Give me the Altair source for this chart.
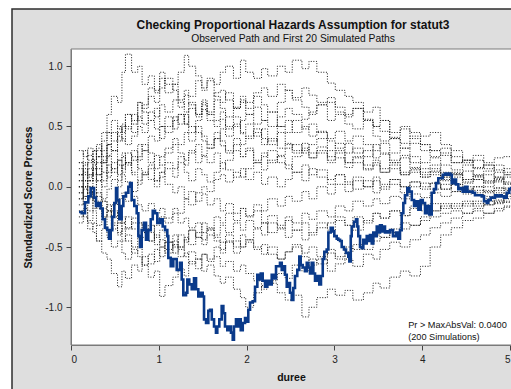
import altair as alt
import pandas as pd

# Observed standardized score process (step path)
OBS_T = [0.091, 0.122, 0.159, 0.197, 0.224, 0.247, 0.262, 0.285, 0.311, 0.338, 0.361, 0.387, 0.413,
         0.433, 0.452, 0.470, 0.493, 0.513, 0.527, 0.550, 0.577, 0.596, 0.626, 0.653, 0.672, 0.691,
         0.721, 0.748, 0.767, 0.786, 0.805, 0.831, 0.854, 0.880, 0.908, 0.931, 0.957, 0.983, 1.014,
         1.044, 1.071, 1.097, 1.108, 1.136, 1.165, 1.204, 1.241, 1.261, 1.279, 1.310, 1.325, 1.347,
         1.375, 1.401, 1.424, 1.450, 1.477, 1.500, 1.515, 1.538, 1.564, 1.583, 1.603, 1.629, 1.651,
         1.666, 1.689, 1.716, 1.735, 1.754, 1.780, 1.803, 1.822, 1.842, 1.856, 1.879, 1.899, 1.917,
         1.933, 1.956, 1.982, 2.001, 2.019, 2.039, 2.069, 2.096, 2.122, 2.145, 2.161, 2.183, 2.210,
         2.236, 2.259, 2.286, 2.312, 2.335, 2.361, 2.380, 2.400, 2.418, 2.437, 2.457, 2.475, 2.494,
         2.514, 2.532, 2.551, 2.577, 2.600, 2.616, 2.639, 2.665, 2.685, 2.703, 2.722, 2.741, 2.760,
         2.779, 2.798, 2.828, 2.847, 2.867, 2.885, 2.912, 2.931, 2.958, 2.981, 2.999, 3.026, 3.044,
         3.064, 3.083, 3.109, 3.132, 3.158, 3.170, 3.186, 3.197, 3.223, 3.246, 3.261, 3.272, 3.292,
         3.311, 3.329, 3.349, 3.368, 3.386, 3.405, 3.425, 3.443, 3.462, 3.482, 3.500, 3.519, 3.539,
         3.557, 3.576, 3.596, 3.614, 3.633, 3.667, 3.702, 3.728, 3.747, 3.766, 3.785, 3.804, 3.830,
         3.853, 3.881, 3.907, 3.929, 3.956, 3.983, 4.006, 4.032, 4.051, 4.081, 4.108, 4.134, 4.157,
         4.183, 4.211, 4.234, 4.260, 4.279, 4.297, 4.317, 4.336, 4.362, 4.385, 4.411, 4.439, 4.461,
         4.487, 4.514, 4.544, 4.575, 4.601, 4.639, 4.678, 4.704, 4.735, 4.753, 4.780, 4.810, 4.829,
         4.855, 4.886, 4.905, 4.932, 4.962, 4.991, 5.011]
OBS_Y = [-0.21, -0.22, -0.13, -0.08, -0.01, -0.01, -0.09, -0.16, -0.135, -0.18, -0.27, -0.34, -0.36,
         -0.43, -0.36, -0.25, -0.135, -0.01, -0.11, -0.27, -0.16, -0.08, -0.05, 0.0, 0.03, -0.11,
         -0.16, -0.22, -0.41, -0.50, -0.36, -0.30, -0.44, -0.36, -0.27, -0.20, -0.22, -0.30, -0.27,
         -0.33, -0.36, -0.41, -0.59, -0.66, -0.60, -0.69, -0.63, -0.77, -0.90, -0.88, -0.77, -0.81,
         -0.85, -0.76, -0.85, -0.91, -0.88, -0.91, -1.10, -1.13, -1.03, -1.02, -1.10, -1.16, -1.21,
         -1.16, -1.10, -0.99, -1.05, -1.16, -1.19, -1.16, -1.21, -1.27, -1.16, -1.10, -1.16, -1.10,
         -1.19, -1.13, -1.09, -1.12, -1.02, -0.96, -0.95, -0.83, -0.73, -0.77, -0.72, -0.78, -0.83,
         -0.78, -0.81, -0.73, -0.76, -0.66, -0.66, -0.63, -0.69, -0.66, -0.73, -0.83, -0.80, -0.88,
         -0.94, -0.84, -0.74, -0.69, -0.58, -0.65, -0.67, -0.70, -0.63, -0.67, -0.72, -0.63, -0.72,
         -0.78, -0.74, -0.81, -0.74, -0.60, -0.54, -0.52, -0.38, -0.34, -0.37, -0.41, -0.43, -0.44,
         -0.45, -0.50, -0.52, -0.55, -0.58, -0.62, -0.41, -0.33, -0.29, -0.27, -0.33, -0.41, -0.50,
         -0.51, -0.44, -0.47, -0.41, -0.45, -0.40, -0.47, -0.38, -0.41, -0.33, -0.38, -0.32, -0.37,
         -0.33, -0.38, -0.37, -0.38, -0.36, -0.41, -0.38, -0.43, -0.36, -0.22, -0.135, -0.07, -0.01,
         -0.04, -0.11, -0.16, -0.12, -0.19, -0.11, -0.135, -0.22, -0.16, -0.23, -0.05, -0.02, 0.03,
         0.07, 0.07, 0.10, 0.11, 0.10, 0.11, 0.10, 0.03, 0.06, 0.02, -0.02, -0.01, -0.04,
         0.00, -0.04, -0.04, -0.05, -0.07, -0.07, -0.08, -0.12, -0.135, -0.11, -0.09, -0.09, -0.07,
         -0.08, -0.07, -0.08, -0.09, -0.05, -0.02, 0.00]

# Event times shared by the simulated paths
SIM_T = [0.09, 0.14, 0.19, 0.25, 0.29, 0.35, 0.41, 0.46, 0.53, 0.58,
         0.62, 0.69, 0.76, 0.81, 0.88, 0.95, 1.01, 1.07, 1.16, 1.22,
         1.29, 1.34, 1.42, 1.49, 1.55, 1.63, 1.70, 1.76, 1.85, 1.93,
         1.99, 2.08, 2.17, 2.24, 2.35, 2.44, 2.52, 2.63, 2.71, 2.80,
         2.92, 3.01, 3.12, 3.21, 3.33, 3.44, 3.52, 3.63, 3.75, 3.86,
         3.98, 4.09, 4.21, 4.33, 4.46, 4.58, 4.70, 4.82, 4.93, 5.02, 5.1]

SIM_01 = [0.05, 0.15, 0.1, 0.3, 0.25, 0.45, 0.6, 0.75, 0.7, 0.95,
          1.1, 0.95, 1.0, 0.85, 0.92, 0.8, 0.9, 0.78, 0.85, 0.7,
          0.62, 0.7, 0.58, 0.72, 0.6, 0.55, 0.62, 0.5, 0.58, 0.45,
          0.52, 0.42, 0.48, 0.38, 0.45, 0.35, 0.3, 0.36, 0.28, 0.33,
          0.25, 0.3, 0.2, 0.24, 0.15, 0.2, 0.12, 0.18, 0.1, 0.14,
          0.08, 0.12, 0.05, 0.1, 0.03, 0.06, 0.0, 0.04, -0.01, 0.02, 0.0]
SIM_02 = [-0.05, 0.05, 0.15, 0.1, 0.25, 0.2, 0.35, 0.3, 0.45, 0.52,
          0.48, 0.6, 0.55, 0.68, 0.75, 0.7, 0.82, 0.9, 0.85, 0.95,
          1.09, 1.0, 0.92, 0.8, 0.88, 0.75, 0.7, 0.78, 0.65, 0.7,
          0.6, 0.66, 0.55, 0.62, 0.5, 0.55, 0.45, 0.5, 0.42, 0.46,
          0.38, 0.32, 0.36, 0.28, 0.3, 0.24, 0.27, 0.2, 0.24, 0.16,
          0.12, 0.15, 0.08, 0.11, 0.06, 0.09, 0.04, 0.07, 0.03, 0.04, 0.04]
SIM_03 = [0.1, 0.2, 0.08, 0.18, 0.05, 0.22, 0.35, 0.3, 0.42, 0.38,
          0.5, 0.45, 0.58, 0.52, 0.62, 0.58, 0.68, 0.62, 0.72, 0.66,
          0.8, 0.75, 0.88, 0.82, 0.9, 0.85, 0.95, 1.0, 0.9, 1.05,
          0.95, 0.9, 0.98, 0.92, 1.0, 0.95, 1.05, 0.98, 1.04, 0.95,
          0.86, 0.8, 0.75, 0.7, 0.62, 0.66, 0.55, 0.41, 0.5, 0.45,
          0.42, 0.45, 0.35, 0.3, 0.22, 0.26, 0.2, 0.24, 0.25, 0.2, 0.2]
SIM_04 = [0.2, 0.3, 0.22, 0.15, 0.32, 0.25, 0.35, 0.45, 0.38, 0.5,
          0.6, 0.52, 0.7, 0.62, 0.55, 0.65, 0.5, 0.58, 0.48, 0.6,
          0.52, 0.45, 0.55, 0.68, 0.6, 0.72, 0.65, 0.58, 0.66, 0.72,
          0.65, 0.75, 0.68, 0.62, 0.7, 0.8, 0.72, 0.66, 0.6, 0.68,
          0.55, 0.6, 0.52, 0.48, 0.55, 0.42, 0.38, 0.4, 0.32, 0.36,
          0.3, 0.25, 0.28, 0.2, 0.22, 0.15, 0.18, 0.12, 0.15, 0.1, 0.1]
SIM_05 = [-0.1, 0.0, 0.1, 0.05, 0.15, 0.0, 0.12, 0.2, 0.1, 0.25,
          0.18, 0.3, 0.22, 0.35, 0.28, 0.15, 0.25, 0.32, 0.4, 0.35,
          0.45, 0.38, 0.5, 0.42, 0.35, 0.45, 0.38, 0.3, 0.4, 0.35,
          0.42, 0.48, 0.4, 0.35, 0.5, 0.45, 0.55, 0.48, 0.52, 0.45,
          0.4, 0.46, 0.38, 0.42, 0.35, 0.3, 0.36, 0.28, 0.32, 0.25,
          0.2, 0.24, 0.18, 0.14, 0.18, 0.1, 0.13, 0.08, 0.1, 0.06, 0.07]
SIM_06 = [0.1, 0.0, 0.05, 0.15, 0.1, 0.2, 0.08, 0.15, 0.05, 0.18,
          0.2, 0.12, 0.25, 0.3, 0.2, 0.26, 0.18, 0.28, 0.35, 0.28,
          0.22, 0.3, 0.2, 0.26, 0.32, 0.4, 0.34, 0.28, 0.35, 0.25,
          0.3, 0.22, 0.28, 0.2, 0.26, 0.32, 0.35, 0.28, 0.24, 0.3,
          0.22, 0.28, 0.2, 0.25, 0.18, 0.22, 0.15, 0.2, 0.12, 0.15,
          0.1, 0.13, 0.08, 0.12, 0.06, 0.09, 0.05, 0.08, 0.04, 0.05, 0.05]
SIM_07 = [0.0, -0.08, 0.05, -0.05, 0.1, 0.05, 0.18, 0.12, 0.22, 0.15,
          0.28, 0.22, 0.35, 0.3, 0.42, 0.38, 0.5, 0.45, 0.55, 0.6,
          0.52, 0.65, 0.6, 0.7, 0.62, 0.78, 0.8, 0.72, 0.65, 0.75,
          0.7, 0.78, 0.82, 0.75, 0.85, 0.8, 0.74, 0.82, 0.76, 0.7,
          0.74, 0.66, 0.6, 0.65, 0.56, 0.5, 0.55, 0.45, 0.48, 0.4,
          0.35, 0.3, 0.32, 0.25, 0.2, 0.22, 0.15, 0.18, 0.12, 0.1, 0.1]
SIM_08 = [-0.15, -0.08, 0.0, -0.05, 0.05, -0.1, -0.02, 0.06, 0.0, 0.1,
          0.04, -0.04, 0.05, 0.12, 0.06, 0.0, 0.08, 0.15, 0.08, 0.2,
          0.12, 0.05, 0.15, 0.1, 0.04, 0.12, 0.2, 0.14, 0.08, 0.15,
          0.06, 0.12, 0.02, 0.08, 0.0, 0.06, 0.12, 0.05, 0.15, 0.08,
          0.02, 0.1, 0.04, -0.02, 0.05, -0.05, 0.0, 0.06, 0.0, 0.04,
          -0.02, 0.03, -0.02, 0.02, -0.03, 0.0, -0.04, -0.01, -0.03, -0.02, -0.02]
SIM_09 = [-0.2, -0.25, -0.35, -0.3, -0.45, -0.55, -0.6, -0.72, -0.83, -0.7,
          -0.76, -0.65, -0.7, -0.58, -0.64, -0.52, -0.58, -0.46, -0.5, -0.4,
          -0.46, -0.36, -0.42, -0.3, -0.36, -0.25, -0.3, -0.22, -0.28, -0.18,
          -0.24, -0.15, -0.2, -0.1, -0.16, -0.08, -0.12, -0.04, -0.1, 0.0,
          -0.06, 0.02, -0.04, 0.05, 0.0, 0.08, 0.02, 0.06, 0.0, 0.04,
          0.0, 0.03, -0.02, 0.02, -0.02, 0.0, -0.03, -0.01, -0.02, -0.02, -0.02]
SIM_10 = [0.0, -0.1, -0.05, -0.18, -0.12, -0.25, -0.2, -0.35, -0.3, -0.45,
          -0.4, -0.55, -0.5, -0.65, -0.75, -0.7, -0.91, -0.82, -0.75, -0.68,
          -0.74, -0.62, -0.68, -0.56, -0.6, -0.5, -0.55, -0.45, -0.5, -0.4,
          -0.44, -0.35, -0.4, -0.3, -0.35, -0.25, -0.3, -0.22, -0.27, -0.2,
          -0.25, -0.16, -0.2, -0.12, -0.16, -0.1, -0.14, -0.08, -0.1, -0.06,
          -0.09, -0.05, -0.08, -0.04, -0.06, -0.05, -0.08, -0.05, -0.06, -0.05, -0.05]
SIM_11 = [-0.1, 0.0, -0.05, -0.12, -0.08, -0.18, -0.15, -0.25, -0.2, -0.3,
          -0.25, -0.35, -0.3, -0.42, -0.38, -0.48, -0.44, -0.52, -0.48, -0.58,
          -0.55, -0.64, -0.6, -0.7, -0.65, -0.74, -0.8, -0.75, -0.85, -0.92,
          -1.0, -0.88, -0.82, -0.78, -0.72, -0.76, -0.65, -0.7, -0.6, -0.64,
          -0.55, -0.58, -0.5, -0.52, -0.45, -0.4, -0.42, -0.35, -0.3, -0.32,
          -0.25, -0.2, -0.16, -0.18, -0.14, -0.16, -0.12, -0.14, -0.1, -0.1, -0.1]
SIM_12 = [0.05, -0.02, -0.1, -0.05, -0.18, -0.12, -0.25, -0.2, -0.3, -0.25,
          -0.35, -0.3, -0.4, -0.36, -0.45, -0.4, -0.5, -0.46, -0.55, -0.5,
          -0.58, -0.54, -0.6, -0.56, -0.62, -0.58, -0.66, -0.62, -0.7, -0.65,
          -0.72, -0.78, -0.85, -0.8, -0.88, -0.94, -0.9, -1.08, -1.0, -0.92,
          -0.85, -0.9, -0.86, -0.94, -0.88, -0.8, -0.84, -0.75, -0.7, -0.74,
          -0.66, -0.5, -0.4, -0.34, -0.28, -0.26, -0.22, -0.2, -0.17, -0.15, -0.15]
SIM_13 = [-0.25, -0.18, -0.28, -0.2, -0.32, -0.26, -0.36, -0.3, -0.38, -0.3,
          -0.34, -0.26, -0.3, -0.38, -0.32, -0.42, -0.36, -0.46, -0.4, -0.5,
          -0.44, -0.36, -0.42, -0.48, -0.4, -0.45, -0.52, -0.46, -0.55, -0.5,
          -0.44, -0.5, -0.56, -0.5, -0.6, -0.54, -0.48, -0.55, -0.5, -0.58,
          -0.52, -0.6, -0.54, -0.48, -0.52, -0.45, -0.42, -0.38, -0.35, -0.32,
          -0.28, -0.25, -0.22, -0.2, -0.22, -0.18, -0.15, -0.13, -0.12, -0.1, -0.1]
SIM_14 = [0.15, 0.05, 0.0, -0.1, -0.15, -0.25, -0.2, -0.32, -0.4, -0.35,
          -0.45, -0.5, -0.42, -0.38, -0.45, -0.32, -0.25, -0.3, -0.18, -0.22,
          -0.1, -0.15, -0.05, 0.0, -0.04, 0.06, 0.1, 0.04, 0.12, 0.08,
          0.15, 0.2, 0.14, 0.22, 0.25, 0.18, 0.12, 0.18, 0.1, 0.14,
          0.06, 0.1, 0.02, 0.08, 0.0, 0.05, -0.02, 0.02, -0.05, 0.0,
          0.03, -0.02, 0.02, -0.04, 0.0, -0.03, -0.05, -0.03, -0.05, -0.04, -0.04]
SIM_15 = [0.3, 0.25, 0.32, 0.22, 0.3, 0.2, 0.26, 0.15, 0.22, 0.28,
          0.2, 0.25, 0.15, 0.1, 0.18, 0.05, 0.12, 0.02, -0.05, 0.0,
          -0.1, -0.04, -0.12, -0.06, -0.15, -0.1, -0.2, -0.14, -0.22, -0.18,
          -0.25, -0.2, -0.3, -0.24, -0.32, -0.28, -0.36, -0.3, -0.4, -0.34,
          -0.3, -0.25, -0.32, -0.36, -0.28, -0.22, -0.26, -0.2, -0.24, -0.16,
          -0.2, -0.14, -0.18, -0.14, -0.16, -0.12, -0.15, -0.11, -0.13, -0.1, -0.1]
SIM_16 = [0.1, 0.18, 0.26, 0.2, 0.35, 0.3, 0.45, 0.38, 0.5, 0.45,
          0.6, 0.55, 0.7, 0.65, 0.82, 0.78, 0.95, 0.85, 0.8, 0.72,
          0.76, 0.68, 0.6, 0.64, 0.55, 0.5, 0.56, 0.48, 0.52, 0.44,
          0.4, 0.45, 0.35, 0.4, 0.32, 0.36, 0.28, 0.32, 0.24, 0.28,
          0.2, 0.24, 0.16, 0.2, 0.14, 0.18, 0.12, 0.15, 0.1, 0.12,
          0.08, 0.1, 0.06, 0.08, 0.04, 0.06, 0.03, 0.05, 0.02, 0.03, 0.03]
SIM_17 = [-0.3, -0.22, -0.3, -0.38, -0.45, -0.35, -0.42, -0.5, -0.45, -0.55,
          -0.6, -0.52, -0.58, -0.65, -0.56, -0.62, -0.5, -0.55, -0.45, -0.52,
          -0.42, -0.48, -0.38, -0.44, -0.35, -0.4, -0.32, -0.38, -0.3, -0.36,
          -0.28, -0.34, -0.3, -0.38, -0.34, -0.42, -0.36, -0.44, -0.38, -0.3,
          -0.36, -0.28, -0.32, -0.25, -0.3, -0.22, -0.26, -0.2, -0.24, -0.18,
          -0.15, -0.2, -0.14, -0.16, -0.12, -0.14, -0.1, -0.12, -0.08, -0.1, -0.1]
SIM_18 = [0.0, 0.1, 0.05, 0.15, 0.2, 0.12, 0.25, 0.3, 0.18, 0.12,
          0.2, 0.1, 0.02, 0.1, 0.15, 0.05, 0.12, 0.2, 0.15, 0.25,
          0.18, 0.28, 0.35, 0.25, 0.2, 0.28, 0.15, 0.22, 0.3, 0.25,
          0.32, 0.2, 0.25, 0.3, 0.2, 0.15, 0.25, 0.3, 0.35, 0.4,
          0.3, 0.36, 0.28, 0.32, 0.25, 0.35, 0.28, 0.22, 0.26, 0.2,
          0.15, 0.18, 0.12, 0.1, 0.13, 0.08, 0.1, 0.06, 0.08, 0.06, 0.06]
SIM_19 = [-0.05, -0.15, -0.2, -0.1, -0.05, -0.12, -0.2, -0.15, -0.1, -0.05,
          -0.12, -0.08, -0.15, -0.2, -0.14, -0.22, -0.18, -0.26, -0.22, -0.3,
          -0.26, -0.34, -0.3, -0.38, -0.34, -0.42, -0.46, -0.4, -0.45, -0.5,
          -0.46, -0.52, -0.48, -0.56, -0.6, -0.54, -0.5, -0.58, -0.65, -0.6,
          -0.7, -0.64, -0.6, -0.66, -0.56, -0.6, -0.52, -0.46, -0.5, -0.44,
          -0.4, -0.34, -0.3, -0.26, -0.22, -0.2, -0.22, -0.18, -0.16, -0.15, -0.15]
SIM_20 = [0.2, 0.12, 0.2, 0.3, 0.25, 0.38, 0.45, 0.55, 0.48, 0.4,
          0.35, 0.42, 0.5, 0.45, 0.55, 0.48, 0.4, 0.5, 0.58, 0.52,
          0.6, 0.5, 0.45, 0.38, 0.32, 0.4, 0.48, 0.42, 0.5, 0.55,
          0.6, 0.52, 0.55, 0.5, 0.58, 0.65, 0.6, 0.56, 0.62, 0.68,
          0.7, 0.62, 0.58, 0.65, 0.55, 0.5, 0.46, 0.4, 0.36, 0.42,
          0.35, 0.3, 0.26, 0.2, 0.22, 0.16, 0.18, 0.14, 0.1, 0.12, 0.12]

SIM_PATHS = [SIM_01, SIM_02, SIM_03, SIM_04, SIM_05, SIM_06, SIM_07, SIM_08, SIM_09, SIM_10,
             SIM_11, SIM_12, SIM_13, SIM_14, SIM_15, SIM_16, SIM_17, SIM_18, SIM_19, SIM_20]

X_TICKS = [0, 1, 2, 3, 4, 5]
Y_TICKS = [-1.0, -0.5, 0.0, 0.5, 1.0]
TITLE = "Checking Proportional Hazards Assumption for statut3"
SUBTITLE = "Observed Path and First 20 Simulated Paths"
NOTE_LINES = ["Pr > MaxAbsVal: 0.0400", "(200 Simulations)"]

# plot area geometry (pixels) inside a 511 x 389 page
LEFT, TOP, W, H = 71, 49, 440, 296
PAGE_W, PAGE_H = 511, 389
FONT = "Liberation Sans"

obs_df = pd.DataFrame({"t": OBS_T, "score": OBS_Y})
sim_df = pd.DataFrame(
    [{"path": i + 1, "t": t, "score": v}
     for i, ys in enumerate(SIM_PATHS) for t, v in zip(SIM_T, ys)]
)
note_df = pd.DataFrame({"t": [3.84, 3.84], "score": [-1.144, -1.243], "label": NOTE_LINES})
one = pd.DataFrame({"k": [0]})

x_scale = alt.Scale(domain=[0, 5.011], nice=False, zero=False)
y_scale = alt.Scale(domain=[-1.313, 1.143], nice=False, zero=False)

x_axis = alt.Axis(values=X_TICKS, title="duree", grid=False, format="d", zindex=1,
                  labelPadding=4, titlePadding=8)
y_axis = alt.Axis(
    values=Y_TICKS, title="Standardized Score Process", grid=False, zindex=1,
    labelExpr="replace(format(datum.value, '.1f'), '\u2212', '-')",
    labelPadding=4, titlePadding=11,
)

# grey window panel with a dark border behind the plot
panel = alt.Chart(one).mark_rect(
    fill="#dedede", stroke="#2e2e2e", strokeWidth=1.5
).encode(x=alt.value(12 - LEFT), x2=alt.value(W + 40), y=alt.value(9 - TOP), y2=alt.value(H + 80))

# white plotting region
plot_bg = alt.Chart(one).mark_rect(
    fill="white", stroke="#7a7a7a", strokeWidth=1
).encode(x=alt.value(0), x2=alt.value(W + 20), y=alt.value(0), y2=alt.value(H))

title = alt.Chart(one).mark_text(
    font=FONT, fontSize=12, fontWeight="bold", color="#111", align="center", baseline="alphabetic"
).encode(x=alt.value(222), y=alt.value(29 - TOP), text=alt.value(TITLE))

subtitle = alt.Chart(one).mark_text(
    font=FONT, fontSize=10.3, color="#111", align="center", baseline="alphabetic"
).encode(x=alt.value(222), y=alt.value(42 - TOP), text=alt.value(SUBTITLE))

sims = alt.Chart(sim_df).mark_line(
    interpolate="step-after", color="#1a1a1a", strokeWidth=1, strokeDash=[1, 1.6]
).encode(
    x=alt.X("t:Q", scale=x_scale, axis=x_axis),
    y=alt.Y("score:Q", scale=y_scale, axis=y_axis),
    detail="path:N",
)

observed = alt.Chart(obs_df).mark_line(
    interpolate="step-after", color="#0a3a8a", strokeWidth=2.6
).encode(
    x=alt.X("t:Q", scale=x_scale),
    y=alt.Y("score:Q", scale=y_scale),
)

note = alt.Chart(note_df).mark_text(
    align="left", baseline="middle", font=FONT, fontSize=9.2, color="#111"
).encode(
    x=alt.X("t:Q", scale=x_scale),
    y=alt.Y("score:Q", scale=y_scale),
    text="label:N",
)

chart = alt.layer(panel, plot_bg, title, subtitle, sims, observed, note).properties(
    width=W,
    height=H,
    autosize=alt.AutoSizeParams(type="none"),
    padding={"left": LEFT, "top": TOP, "right": PAGE_W - LEFT - W, "bottom": PAGE_H - TOP - H},
    background="white",
).configure_view(stroke=None).configure_axis(
    labelFont=FONT,
    labelFontSize=10,
    labelColor="#222",
    titleFont=FONT,
    titleFontSize=10.5,
    titleFontWeight="bold",
    titleColor="#111",
    domainColor="#7a7a7a",
    tickColor="#444",
    tickSize=5,
)

chart.save("out.html", embed_options={"renderer": "svg", "actions": False})
